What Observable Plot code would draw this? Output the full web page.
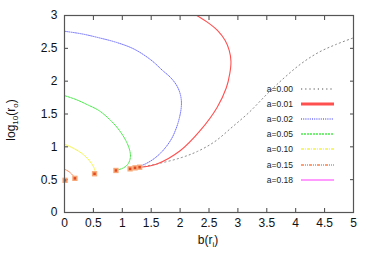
<!DOCTYPE html>
<html><head><meta charset="utf-8">
<script src="https://cdn.jsdelivr.net/npm/d3@7"></script>
<script src="https://cdn.jsdelivr.net/npm/@observablehq/plot@0.6"></script>
<style>
body{margin:0;background:#fff;}
#wrap{position:relative;width:374px;height:262px;font-family:"Liberation Sans",Arial,sans-serif;}
#legend{position:absolute;left:262px;top:81px;font-size:8.5px;color:#222;}
#legend .row{display:flex;align-items:center;height:15.2px;}
#legend .lab{width:31px;text-align:right;}
#legend svg{margin-left:8px;}
</style></head>
<body><div id="wrap"><div id="legend"></div></div>
<script>
const series = ["a=0.00","a=0.01","a=0.02","a=0.05","a=0.10","a=0.15","a=0.18"];
const colors = ["#8a8a8a","#ff5050","#7070ff","#48ea48","#f5f545","#ff8048","#ff78ff"];
const dashes = ["1.2,3","none","1,1.2","2,1","3,1,1,1","3,1,1,1,1,1","none"];
const widths = [1,1.1,1,1,1,1,1];
const legendWidths = [1.5,3,1.5,1.5,1.5,1.5,1.5];

const b000 = [1.31,1.6,2.0,2.3,2.6,2.9,3.2,3.5,3.8,4.1,4.4,4.7,5.0];
const v000 = [0.69,0.74,0.83,0.93,1.08,1.30,1.53,1.80,2.05,2.27,2.44,2.56,2.66];
const b001 = [1.30,1.60,2.0,2.35,2.64,2.80,2.86,2.88,2.85,2.78,2.65,2.50,2.29];
const v001 = [0.69,0.74,0.94,1.25,1.60,1.90,2.12,2.30,2.47,2.62,2.77,2.88,3.0];
const b002 = [1.22,1.4,1.55,1.70,1.85,1.94,1.99,2.02,2.02,1.99,1.93,1.83,1.70,1.5,1.2,0.9,0.6,0.3,0.0];
const v002 = [0.68,0.74,0.82,0.94,1.12,1.30,1.45,1.60,1.72,1.84,1.95,2.06,2.16,2.32,2.49,2.59,2.66,2.72,2.76];
const b005 = [0.89,1.02,1.10,1.14,1.13,1.07,0.95,0.80,0.60,0.40,0.20,0.0];
const v005 = [0.64,0.68,0.74,0.84,0.94,1.08,1.25,1.40,1.55,1.64,1.72,1.78];
const b010 = [0.52,0.53,0.50,0.42,0.30,0.15,0.0];
const v010 = [0.59,0.62,0.70,0.80,0.90,0.98,1.04];
const b015 = [0.18,0.15,0.08,0.0];
const v015 = [0.52,0.56,0.62,0.66];
const b018 = [0.01,0.0];
const v018 = [0.49,0.50];

const markB = [0.01,0.18,0.52,0.89,1.135,1.22,1.30];
const markV = [0.49,0.52,0.59,0.64,0.665,0.68,0.69];

const xTicks = [0,0.5,1,1.5,2,2.5,3,3.5,4,4.5,5];
const yTicks = [0,0.5,1,1.5,2,2.5,3];

const bs = [b000,b001,b002,b005,b010,b015,b018];
const vs = [v000,v001,v002,v005,v010,v015,v018];
const curves = series.map((s,i)=>bs[i].map((b,j)=>({b, v: vs[i][j], s})));
const marks = markB.map((b,i)=>({b, v: markV[i]}));

const lineMarks = curves.map((d,i)=>Plot.line(d,{x:"b",y:"v",stroke:colors[i],strokeWidth:widths[i],strokeDasharray:dashes[i],curve:"catmull-rom"}));

const fmt = d => String(d);
const chart = Plot.plot({
  width:374, height:262,
  marginLeft:64, marginRight:21, marginTop:15, marginBottom:50,
  style:{fontFamily:"'Liberation Sans',Arial,sans-serif", fontSize:"12px", color:"#111", background:"transparent"},
  x:{domain:[0,5]},
  y:{domain:[0,3]},
  marks:[
    Plot.axisX({anchor:"bottom", ticks:xTicks, tickSize:-4, tickPadding:10, tickFormat:fmt, label:null, fontSize:12, stroke:"#444"}),
    Plot.axisX({anchor:"top", ticks:xTicks, tickSize:-4, tickFormat:()=>"", label:null, stroke:"#444"}),
    Plot.axisY({anchor:"left", ticks:yTicks, tickSize:-4, tickPadding:11, tickFormat:fmt, label:null, fontSize:12, stroke:"#444"}),
    Plot.axisY({anchor:"right", ticks:yTicks, tickSize:-4, tickFormat:()=>"", label:null, stroke:"#444"}),
    ...lineMarks,
    Plot.dot(marks,{x:"b",y:"v",symbol:"square",r:3,fill:"#f8a878"}),
    Plot.dot(marks,{x:"b",y:"v",symbol:"square",r:1.4,fill:"#e04a20"}),
    Plot.frame({stroke:"#555", strokeWidth:1.2})
  ]
});
const wrap = document.getElementById("wrap");
wrap.prepend(chart);

// axis labels with subscripts
const svg = d3.select(chart);
const xl = svg.append("text").attr("x", 208).attr("y", 244).attr("text-anchor","middle")
  .attr("font-size",12).attr("fill","#111");
xl.append("tspan").text("b(r");
xl.append("tspan").attr("font-size",8).attr("dy",3).text("i");
xl.append("tspan").attr("dy",-3).text(")");
const yl = svg.append("text").attr("transform","translate(15,120) rotate(-90)").attr("text-anchor","middle")
  .attr("font-size",12).attr("fill","#111");
yl.append("tspan").text("log");
yl.append("tspan").attr("font-size",8).attr("dy",3).text("10");
yl.append("tspan").attr("dy",-3).text("(r");
yl.append("tspan").attr("font-size",8).attr("dy",3).text("o");
yl.append("tspan").attr("dy",-3).text(")");

// legend
const leg = d3.select("#legend");
series.forEach((s,i)=>{
  const row = leg.append("div").attr("class","row");
  row.append("div").attr("class","lab").text(s);
  const sv = row.append("svg").attr("width",33).attr("height",6);
  sv.append("line").attr("x1",0).attr("x2",33).attr("y1",3).attr("y2",3)
    .attr("stroke",colors[i]).attr("stroke-width",legendWidths[i])
    .attr("stroke-dasharray",dashes[i]==="none"?null:dashes[i]);
});
</script></body></html>
